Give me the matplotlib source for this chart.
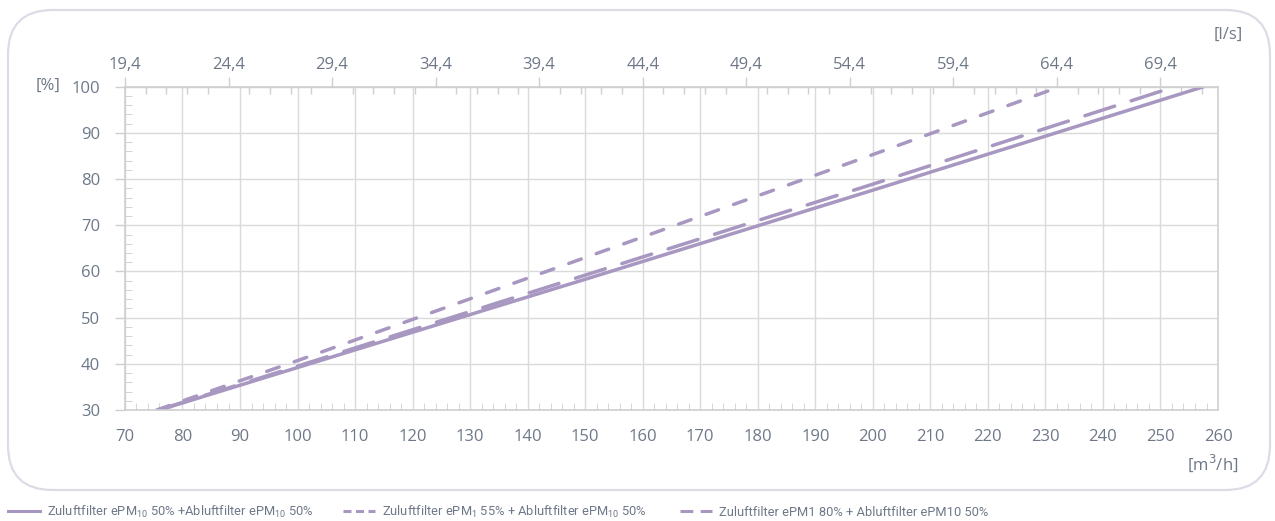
import matplotlib
matplotlib.use('Agg')
import matplotlib.pyplot as plt
from matplotlib.patches import FancyBboxPatch
from matplotlib.lines import Line2D
from matplotlib.ticker import MultipleLocator, FixedLocator, FuncFormatter

# data (volume flow m3/h -> percent)
x_solid = [76, 100, 150, 200, 257.5]
y_solid = [30, 39.2, 58.3, 77.6, 100]
x_short = [75.5, 100, 150, 200, 232.5]
y_short = [30, 40.7, 63.0, 85.3, 100]
x_long = [75.8, 100, 150, 200, 252.5]
y_long = [30, 39.5, 59.2, 78.9, 100]

labels = ['Zuluftfilter ePM$_{10}$ 50% +Abluftfilter ePM$_{10}$ 50%',
          'Zuluftfilter ePM$_{1}$ 55% + Abluftfilter ePM$_{10}$ 50%',
          'Zuluftfilter ePM1 80% + Abluftfilter ePM10 50%']

top_ticks = [19.4, 24.4, 29.4, 34.4, 39.4, 44.4, 49.4, 54.4, 59.4, 64.4, 69.4]

line_col = '#a797c1'
text_col = '#6e7888'
grid_col = '#dadada'

plt.rcParams['font.family'] = ['Open Sans', 'DejaVu Sans']
plt.rcParams['mathtext.fontset'] = 'custom'
plt.rcParams['mathtext.rm'] = 'Roboto'

fig = plt.figure(figsize=(12.75, 5.21), dpi=100)
ax = fig.add_axes([0.098, 0.213, 0.8573, 0.6206])

# rounded frame
frame = FancyBboxPatch((8 / 1275, 31 / 521), 1262 / 1275, 480 / 521,
                       boxstyle='round,pad=0,rounding_size=0.035',
                       transform=fig.transFigure, fill=False,
                       edgecolor='#dedbe6', linewidth=1.6, mutation_aspect=2.45)
fig.patches.append(frame)

ax.plot(x_solid, y_solid, color=line_col, lw=2.5, solid_capstyle='round')
ax.plot(x_short, y_short, color=line_col, lw=2.5, dash_capstyle='round',
        dashes=(3.8, 4.6))
ax.plot(x_long, y_long, color=line_col, lw=2.5, dash_capstyle='round',
        dashes=(9, 5))

ax.set_xlim(70, 260)
ax.set_ylim(30, 100)
ax.xaxis.set_major_locator(MultipleLocator(10))
ax.xaxis.set_minor_locator(MultipleLocator(2))
ax.yaxis.set_major_locator(MultipleLocator(10))
ax.yaxis.set_minor_locator(MultipleLocator(2))
ax.grid(True, which='major', color=grid_col, lw=1)
ax.set_axisbelow(True)
for s in ax.spines.values():
    s.set_color('#cfcfcf')
    s.set_linewidth(1.2)

ax.tick_params(axis='x', which='major', length=0, pad=14, labelsize=12, labelcolor=text_col)
ax.tick_params(axis='x', which='minor', direction='in', length=5, color='#cfcfcf')
ax.tick_params(axis='y', which='major', length=7, width=1, color='#cfcfcf', pad=11,
               labelsize=12, labelcolor=text_col)
ax.tick_params(axis='y', which='minor', direction='in', length=5, color='#cfcfcf')


def to_ls(v):
    return (v - 70) / 3.6 + 19.4


def to_m3h(v):
    return (v - 19.4) * 3.6 + 70


top = ax.secondary_xaxis('top', functions=(to_ls, to_m3h))
top.xaxis.set_major_locator(FixedLocator(top_ticks))
top.xaxis.set_minor_locator(FixedLocator([19.4 + i for i in range(53)]))
top.xaxis.set_major_formatter(FuncFormatter(lambda v, p: f'{v:.1f}'.replace('.', ',')))
top.tick_params(axis='x', which='major', length=7, width=1, color='#cfcfcf', pad=3,
                labelsize=12, labelcolor=text_col)
top.tick_params(axis='x', which='minor', direction='in', length=5, width=1, color='#cfcfcf')
top.spines['top'].set_color('#cfcfcf')

fig.text(48 / 1275, 1 - 86 / 521, '[%]', ha='center', va='center', fontsize=12, color=text_col)
fig.text(1228 / 1275, 1 - 35 / 521, '[l/s]', ha='center', va='center', fontsize=12, color=text_col)
fig.text(1213 / 1275, 1 - 463 / 521, '[m$^3$/h]', ha='center', va='center', fontsize=12,
         color=text_col, math_fontfamily='dejavusans')

# legend: one entry each, placed like the original
handles = [Line2D([], [], color=line_col, lw=2.2),
           Line2D([], [], color=line_col, lw=2.2, dashes=(2.6, 1.5)),
           Line2D([], [], color=line_col, lw=2.2, dashes=(4.2, 2.4))]
for h, lab, xp in zip(handles, labels, [8, 343, 680]):
    leg = fig.legend([h], [lab], loc='center left', bbox_to_anchor=(xp / 1275, 1 - 512 / 521),
                     frameon=False, labelcolor=text_col, borderpad=0, borderaxespad=0,
                     handlelength=2.5, handletextpad=0.55,
                     prop={'family': 'Roboto', 'size': 9.3})

fig.savefig('out.png', dpi=100)
